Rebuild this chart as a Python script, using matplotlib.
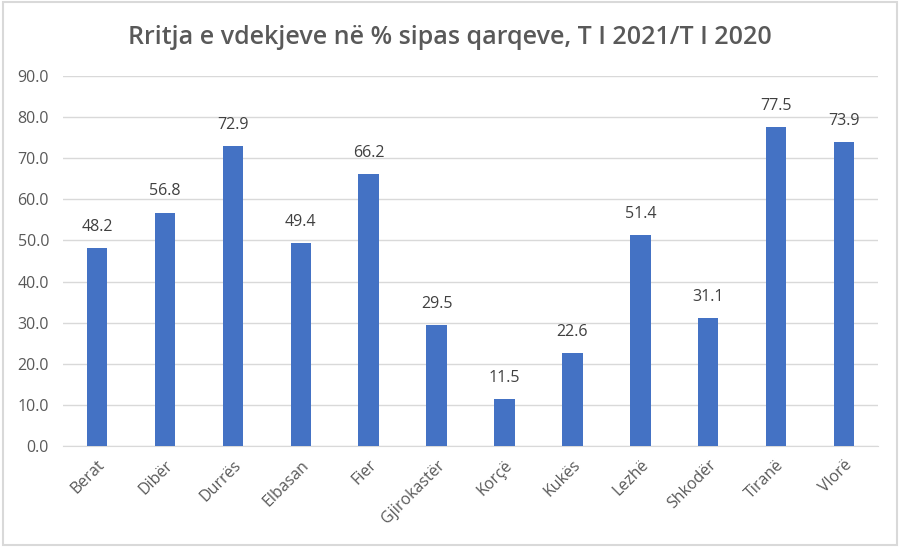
import matplotlib.pyplot as plt
from matplotlib.patches import Rectangle

regions = ['Berat', 'Dibër', 'Durrës', 'Elbasan', 'Fier', 'Gjirokastër',
           'Korçë', 'Kukës', 'Lezhë', 'Shkodër', 'Tiranë', 'Vlorë']
growth = [48.2, 56.8, 72.9, 49.4, 66.2, 29.5, 11.5, 22.6, 51.4, 31.1, 77.5, 73.9]
y_ticks = [0, 10, 20, 30, 40, 50, 60, 70, 80, 90]

plt.rcParams['font.family'] = ['Open Sans', 'DejaVu Sans']

fig = plt.figure(figsize=(9, 5.47), dpi=100)
ax = fig.add_axes([0.07, 0.1846, 0.9056, 0.6764])

# outer frame like the Excel chart area
fig.patches.append(Rectangle((0.003, 0.004), 0.994, 0.992, transform=fig.transFigure,
                             fill=False, edgecolor='#d9d9d9', linewidth=1.5))

bars = ax.bar(range(len(regions)), growth, width=0.3, color='#4472c4', zorder=3)
for b, v in zip(bars, growth):
    ax.text(b.get_x() + b.get_width() / 2, v + 3.2, f'{v:.1f}', ha='center', va='bottom',
            fontsize=11.5, color='#404040')

ax.set_ylim(0, 90)
ax.set_xlim(-0.5, len(regions) - 0.5)
ax.set_yticks(y_ticks)
ax.set_yticklabels([f'{t:.1f}' for t in y_ticks])
ax.set_xticks(range(len(regions)))
ax.set_xticklabels(regions, rotation=45, ha='right', rotation_mode='anchor')
ax.tick_params(axis='both', length=0, labelsize=11.5, labelcolor='#595959')
ax.tick_params(axis='x', pad=8)
ax.tick_params(axis='y', pad=10)
ax.grid(axis='y', color='#d9d9d9', linewidth=1, zorder=0)
for s in ['top', 'right', 'left']:
    ax.spines[s].set_visible(False)
ax.spines['bottom'].set_color('#d9d9d9')

fig.text(0.5, 0.932, 'Rritja e vdekjeve në % sipas qarqeve, T I 2021/T I 2020',
         ha='center', va='center', fontsize=18, fontweight='semibold', color='#595959')

plt.savefig('out.png', dpi=100)
